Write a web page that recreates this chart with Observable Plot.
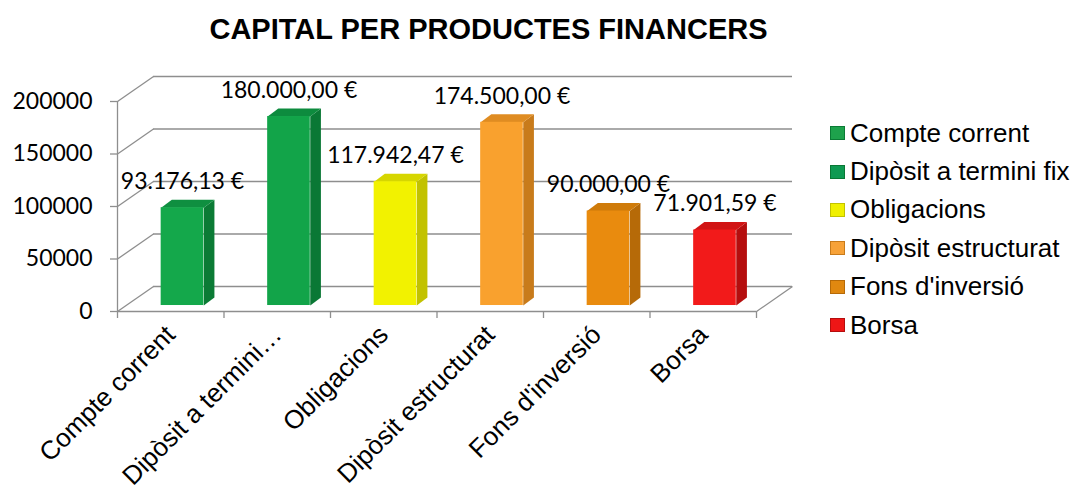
<!DOCTYPE html>
<html>
<head>
<meta charset="utf-8">
<script src="https://cdn.jsdelivr.net/npm/d3@7"></script>
<script src="https://cdn.jsdelivr.net/npm/@observablehq/plot@0.6"></script>
<style>
  html, body { margin: 0; padding: 0; background: #fff; }
  #wrap { position: relative; width: 1076px; height: 495px; background: #fff; overflow: hidden; }
  #title { width: 977px; height: 55px; line-height: 58px; text-align: center;
           font-family: "Liberation Sans", Arial, sans-serif; font-weight: bold; font-size: 29px; color: #000; }
  #legend { position: absolute; left: 830px; top: 114px; font-family: "Liberation Sans", Arial, sans-serif; font-size: 26px; color: #000; }
  .row { height: 38.4px; display: flex; align-items: center; white-space: nowrap; }
  .sw { width: 15px; height: 14px; margin-right: 5px; box-sizing: border-box; }
</style>
</head>
<body>
<div id="wrap">
  <div id="title">CAPITAL PER PRODUCTES FINANCERS</div>
  <div id="chart"></div>
  <div id="legend"></div>
</div>
<script>
// ---- data ----
const categories = ["Compte corrent", "Dipòsit a termini fix", "Obligacions", "Dipòsit estructurat", "Fons d'inversió", "Borsa"];
const tickLabels = ["Compte corrent", "Dipòsit a termini…", "Obligacions", "Dipòsit estructurat", "Fons d'inversió", "Borsa"];
const values = [93176.13, 180000, 117942.47, 174500, 90000, 71901.59];
const yTicks = [0, 50000, 100000, 150000, 200000];

// ---- styles ----
const frontColors = ["#14a84b", "#12a449", "#f2f200", "#f9a12e", "#e98b0e", "#f21a1a"];
const sideColors  = ["#0b7b35", "#0a7835", "#c2c200", "#c87b1b", "#b66a08", "#b50e0e"];
const topColors   = ["#0f8f40", "#0d8b3e", "#d6d600", "#df8c22", "#cf7b0a", "#d11414"];
const legendColors = ["#1ea24c", "#0f9a52", "#f0f000", "#f7a238", "#e08810", "#ee1616"];
const gray = "#8e8e8e";

// 3D projection constants (in scale units)
const WALL_DX = 0.338, WALL_DY = 23800;   // depth of the box
const BAR_L = 0.41, BAR_R = 0.81, BASE = 5700; // bar front face within its band
const BAR_DX = 0.10, BAR_DY = 7600;       // depth of a bar

const euro = d3.formatLocale({decimal: ",", thousands: ".", grouping: [3], currency: ["", " €"]}).format("$,.2f");

const bars = values.map((v, i) => ({i, v, x1: i + BAR_L, x2: i + BAR_R, y0: BASE, y1: v + BASE}));
const sidePts = bars.flatMap(b => [
  {z: b.i, x: b.x2, y: b.y0}, {z: b.i, x: b.x2, y: b.y1},
  {z: b.i, x: b.x2 + BAR_DX, y: b.y1 + BAR_DY}, {z: b.i, x: b.x2 + BAR_DX, y: b.y0 + BAR_DY}
]);
const topPts = bars.flatMap(b => [
  {z: b.i, x: b.x1, y: b.y1}, {z: b.i, x: b.x2, y: b.y1},
  {z: b.i, x: b.x2 + BAR_DX, y: b.y1 + BAR_DY}, {z: b.i, x: b.x1 + BAR_DX, y: b.y1 + BAR_DY}
]);

const n = categories.length;
const chart = Plot.plot({
  width: 1076,
  height: 440,
  marginLeft: 117,
  marginRight: 320,
  marginTop: 46,
  marginBottom: 184,
  x: {domain: [0, n], axis: null},
  y: {domain: [0, 200000], axis: null},
  color: {type: "identity"},
  style: {background: "transparent"},
  marks: [
    // back wall grid lines
    Plot.ruleY(yTicks, {y: d => d + WALL_DY, x1: WALL_DX, x2: n + WALL_DX, stroke: gray, strokeWidth: 1.3}),
    // side wall diagonals
    Plot.link(yTicks, {x1: 0, y1: d => d, x2: WALL_DX, y2: d => d + WALL_DY, stroke: gray, strokeWidth: 1.3}),
    // floor right edge
    Plot.link([0], {x1: n, y1: 0, x2: n + WALL_DX, y2: WALL_DY, stroke: gray, strokeWidth: 1.3}),
    // bars: side, top, front
    Plot.line(sidePts, {x: "x", y: "y", z: "z", fill: d => sideColors[d.z], stroke: "none", curve: "linear"}),
    Plot.line(topPts, {x: "x", y: "y", z: "z", fill: d => topColors[d.z], stroke: "none", curve: "linear"}),
    Plot.rectY(bars, {x1: "x1", x2: "x2", y1: "y0", y2: "y1", fill: d => frontColors[d.i]}),
    // front axes
    Plot.ruleX([0], {y1: 0, y2: 200000, stroke: gray, strokeWidth: 1.3}),
    Plot.ruleY([0], {x1: 0, x2: n, stroke: gray, strokeWidth: 1.3}),
    Plot.axisX({ticks: d3.range(n + 1), tickFormat: () => "", tickSize: 7, stroke: gray, strokeWidth: 1.3}),
    Plot.axisY({ticks: yTicks, tickFormat: d => String(d), tickSize: 7, tickPadding: 18, stroke: gray, strokeWidth: 1.3,
                fill: "#000", fontSize: 23, fontFamily: "Lato, 'Open Sans', sans-serif"}),
    // category labels
    Plot.text(tickLabels, {x: (d, i) => i + 0.5, y: 0, text: d => d, rotate: -45, textAnchor: "end",
                           dx: 0, dy: 19, fontSize: 26, fontFamily: "'Liberation Sans', Arial, sans-serif", fill: "#000"}),
    // data labels
    Plot.text(bars, {x: d => (d.x1 + d.x2) / 2, y: "y1", text: d => euro(d.v), dy: -26,
                     fontSize: 23, fontFamily: "Lato, 'Open Sans', sans-serif", fill: "#000"})
  ]
});
document.getElementById("chart").appendChild(chart);

// legend
const legend = document.getElementById("legend");
categories.forEach((c, i) => {
  const row = document.createElement("div");
  row.className = "row";
  const sw = document.createElement("div");
  sw.className = "sw";
  sw.style.background = legendColors[i];
  sw.style.border = "1px solid " + sideColors[i];
  const t = document.createElement("span");
  t.textContent = c;
  row.appendChild(sw);
  row.appendChild(t);
  legend.appendChild(row);
});
</script>
</body>
</html>
